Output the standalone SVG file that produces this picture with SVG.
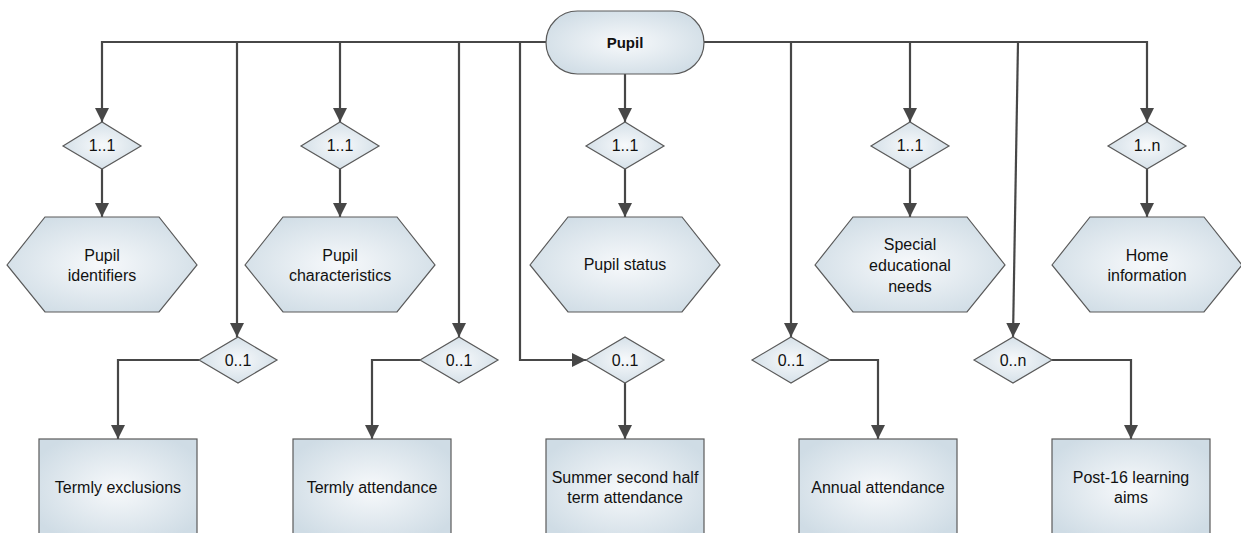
<svg xmlns="http://www.w3.org/2000/svg" width="1241" height="533" viewBox="0 0 1241 533">
<defs>
<radialGradient id="fill" cx="50%" cy="50%" r="60%">
<stop offset="0" stop-color="#f7f9fb"/>
<stop offset="1" stop-color="#cfdce5"/>
</radialGradient>
<marker id="arr" viewBox="0 0 14 14" refX="14" refY="7" markerWidth="14" markerHeight="14" markerUnits="userSpaceOnUse" orient="auto">
<path d="M0,0 L14,7 L0,14 z" fill="#474747"/>
</marker>
</defs>
<style>
.shape{fill:url(#fill);stroke:#5a5a5a;stroke-width:1.2}
.conn{fill:none;stroke:#474747;stroke-width:2.2;marker-end:url(#arr)}
.bus{fill:none;stroke:#474747;stroke-width:2.2}
text{font-family:"Liberation Sans",Arial,sans-serif;font-size:16px;fill:#111;text-anchor:middle}
.b{font-weight:bold;font-size:15px}
</style>
<rect width="1241" height="533" fill="#fff"/>
<g id="connectors">
<path class="conn" d="M546,42 H102 V122"/>
<path class="conn" d="M237,42 V337"/>
<path class="conn" d="M340,42 V122"/>
<path class="conn" d="M459,42 V337"/>
<path class="conn" d="M520,42 V360 H586"/>
<path class="conn" d="M625,74 V122"/>
<path class="conn" d="M791,42 V337"/>
<path class="conn" d="M910,42 V122"/>
<path class="conn" d="M1018,42 L1013,337"/>
<path class="conn" d="M704,42 H1147 V122"/>
<path class="conn" d="M102,169 V217"/>
<path class="conn" d="M340,169 V217"/>
<path class="conn" d="M625,169 V217"/>
<path class="conn" d="M910,169 V217"/>
<path class="conn" d="M1147,169 V217"/>
<path class="conn" d="M199,360 H118 V439"/>
<path class="conn" d="M420,360 H372 V439"/>
<path class="conn" d="M625,383 V439"/>
<path class="conn" d="M830,360 H878 V439"/>
<path class="conn" d="M1052,360 H1131 V439"/>
</g>
<g id="pupil">
<rect class="shape" x="546" y="11" width="158" height="63" rx="31.5"/>
<text class="b" x="625" y="48">Pupil</text>
</g>
<g id="card-identifiers"><polygon class="shape" points="63,146 102,122 141,146 102,169"/><text x="102" y="151">1..1</text></g>
<g id="card-characteristics"><polygon class="shape" points="301,146 340,122 379,146 340,169"/><text x="340" y="151">1..1</text></g>
<g id="card-status"><polygon class="shape" points="586,146 625,122 664,146 625,169"/><text x="625" y="151">1..1</text></g>
<g id="card-sen"><polygon class="shape" points="871,146 910,122 949,146 910,169"/><text x="910" y="151">1..1</text></g>
<g id="card-home"><polygon class="shape" points="1108,146 1147,122 1186,146 1147,169"/><text x="1147" y="151">1..n</text></g>
<g id="card-exclusions"><polygon class="shape" points="199,360 238,337 277,360 238,383"/><text x="238" y="366">0..1</text></g>
<g id="card-termly"><polygon class="shape" points="420,360 459,337 498,360 459,383"/><text x="459" y="366">0..1</text></g>
<g id="card-summer"><polygon class="shape" points="586,360 625,337 664,360 625,383"/><text x="625" y="366">0..1</text></g>
<g id="card-annual"><polygon class="shape" points="752,360 791,337 830,360 791,383"/><text x="791" y="366">0..1</text></g>
<g id="card-post16"><polygon class="shape" points="974,360 1013,337 1052,360 1013,383"/><text x="1013" y="366">0..n</text></g>
<g id="pupil-identifiers"><polygon class="shape" points="7,265 45,217 159,217 197,265 159,312 45,312"/><text x="102" y="261">Pupil</text><text x="102" y="281">identifiers</text></g>
<g id="pupil-characteristics"><polygon class="shape" points="245,265 283,217 397,217 435,265 397,312 283,312"/><text x="340" y="261">Pupil</text><text x="340" y="281">characteristics</text></g>
<g id="pupil-status"><polygon class="shape" points="530,265 568,217 682,217 720,265 682,312 568,312"/><text x="625" y="270">Pupil status</text></g>
<g id="special-educational-needs"><polygon class="shape" points="815,265 853,217 967,217 1005,265 967,312 853,312"/><text x="910" y="250">Special</text><text x="910" y="271">educational</text><text x="910" y="292">needs</text></g>
<g id="home-information"><polygon class="shape" points="1052,265 1090,217 1204,217 1242,265 1204,312 1090,312"/><text x="1147" y="261">Home</text><text x="1147" y="281">information</text></g>
<g id="termly-exclusions"><rect class="shape" x="39" y="439" width="158" height="100"/><text x="118" y="493">Termly exclusions</text></g>
<g id="termly-attendance"><rect class="shape" x="293" y="439" width="158" height="100"/><text x="372" y="493">Termly attendance</text></g>
<g id="summer-attendance"><rect class="shape" x="546" y="439" width="158" height="100"/><text x="625" y="483">Summer second half</text><text x="625" y="503">term attendance</text></g>
<g id="annual-attendance"><rect class="shape" x="799" y="439" width="158" height="100"/><text x="878" y="493">Annual attendance</text></g>
<g id="post16-learning-aims"><rect class="shape" x="1052" y="439" width="158" height="100"/><text x="1131" y="483">Post-16 learning</text><text x="1131" y="503">aims</text></g>
</svg>
